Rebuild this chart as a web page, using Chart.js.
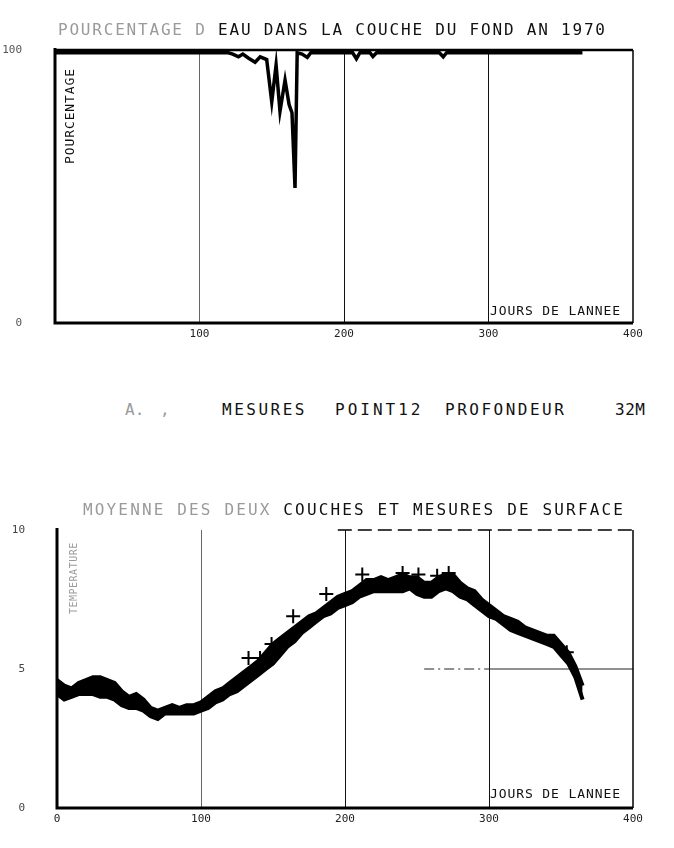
<!DOCTYPE html>
<html>
<head>
<meta charset="utf-8">
<script src="https://cdn.jsdelivr.net/npm/chart.js@4/dist/chart.umd.min.js"></script>
<style>
  html, body { margin: 0; padding: 0; background: #fff; }
  body { width: 674px; height: 848px; position: relative; overflow: hidden; }
  canvas { position: absolute; left: 0; }
  .txt { position: absolute; font-family: 'DejaVu Sans Mono', monospace; font-size: 16px; line-height: 16px; color: #111; white-space: pre; }
  .faint { color: #9a9a9a; }
  .small { font-size: 13px; line-height: 13px; letter-spacing: 0.9px; }
  .vert { transform-origin: 0 0; transform: rotate(-90deg); }
</style>
</head>
<body>
<canvas id="pctChart" width="674" height="360" style="top:0"></canvas>
<canvas id="tempChart" width="674" height="368" style="top:480px"></canvas>

<div class="txt" style="left:58px;top:22px;letter-spacing:1.8px"><span class="faint">POURCENTAGE D </span>EAU DANS LA COUCHE DU FOND AN 1970</div>
<div class="txt vert small" style="left:63px;top:164px">POURCENTAGE</div>
<div class="txt small" style="left:490px;top:304px">JOURS DE LANNEE</div>

<div class="txt faint" style="left:125px;top:402px">A.</div>
<div class="txt faint" style="left:160px;top:402px">,</div>
<div class="txt" style="left:222px;top:402px;letter-spacing:2.5px">MESURES</div>
<div class="txt" style="left:335px;top:402px;letter-spacing:3px">POINT12</div>
<div class="txt" style="left:445px;top:402px;letter-spacing:2.5px">PROFONDEUR</div>
<div class="txt" style="left:615px;top:402px;letter-spacing:0.5px">32M</div>

<div class="txt" style="left:83px;top:502px;letter-spacing:2.15px"><span class="faint">MOYENNE DES DEUX </span>COUCHES ET MESURES DE SURFACE</div>
<div class="txt vert faint" style="left:69px;top:614px;font-size:10px;line-height:10px;letter-spacing:0.5px">TEMPERATURE</div>
<div class="txt small" style="left:490px;top:787px">JOURS DE LANNEE</div>

<script>
// percentage of water, bottom layer 1970 (day of year -> %)
const pctDays = [0, 120, 123, 127, 130, 134, 138.5, 142, 146.5, 150, 153, 155.7, 159.2, 162, 164, 166.1, 167.6, 171, 174.6, 177, 206, 208.6, 211, 218, 220, 222.5, 266, 268.7, 271, 365];
const pctValues = [99, 99, 98.5, 97.5, 98.5, 97, 95.5, 97.5, 96.5, 81, 94.5, 77.5, 89, 80, 77, 49.5, 99, 98.5, 97.3, 99, 99, 96.8, 99, 99, 97.6, 99, 99, 97.5, 99, 99];

// temperature band (two layers), day of year -> deg C
const bandDays = [0, 5, 10, 15, 20, 25, 30, 35, 40, 45, 50, 55, 60, 65, 70, 75, 80, 85, 90, 95, 100,
  105, 110, 115, 120, 125, 130, 135, 140, 145, 150, 155, 160, 165, 170, 175, 180, 185, 190, 195, 200,
  205, 210, 215, 220, 225, 230, 235, 240, 245, 250, 255, 260, 265, 270, 275, 280, 285, 290, 295, 300,
  305, 310, 315, 320, 325, 330, 335, 340, 345, 350, 355, 360, 365];
const upperTemp = [4.6, 4.4, 4.3, 4.5, 4.6, 4.7, 4.7, 4.6, 4.5, 4.2, 4.0, 4.1, 3.9, 3.6, 3.5, 3.6, 3.7, 3.6, 3.7, 3.7, 3.8,
  4.0, 4.2, 4.3, 4.5, 4.7, 4.9, 5.1, 5.3, 5.6, 5.9, 6.1, 6.3, 6.5, 6.7, 6.9, 7.0, 7.2, 7.4, 7.6, 7.7,
  7.8, 8.0, 8.2, 8.2, 8.3, 8.2, 8.3, 8.4, 8.3, 8.3, 8.1, 8.1, 8.3, 8.4, 8.4, 8.1, 7.9, 7.8, 7.5, 7.3,
  7.1, 6.9, 6.8, 6.7, 6.5, 6.4, 6.3, 6.2, 6.2, 5.9, 5.6, 5.1, 4.4];
const lowerTemp = [4.1, 3.9, 4.0, 4.1, 4.1, 4.1, 4.0, 4.0, 3.9, 3.7, 3.6, 3.6, 3.5, 3.3, 3.2, 3.4, 3.4, 3.4, 3.4, 3.4, 3.5,
  3.6, 3.8, 3.9, 4.1, 4.2, 4.4, 4.6, 4.8, 5.0, 5.2, 5.5, 5.8, 6.0, 6.3, 6.5, 6.7, 6.9, 7.0, 7.2, 7.3,
  7.4, 7.6, 7.7, 7.8, 7.8, 7.8, 7.8, 7.8, 7.9, 7.7, 7.6, 7.6, 7.8, 7.9, 7.8, 7.6, 7.5, 7.3, 7.1, 6.9,
  6.8, 6.6, 6.4, 6.3, 6.2, 6.1, 6.0, 5.9, 5.8, 5.5, 5.2, 4.7, 3.9];

// surface measurements (+)
const surfDays = [133, 141, 149, 164, 187, 212, 240, 251, 264, 272, 354];
const surfTemp = [5.4, 5.4, 5.9, 6.9, 7.7, 8.4, 8.45, 8.4, 8.35, 8.45, 5.6];

// partial reference line at 5 deg
const refDays = [255, 300, 400];
const refTemp = [5, 5, 5];

const xTicks = [0, 100, 200, 300, 400];

const tickFont = { family: "'DejaVu Sans Mono', monospace", size: 11 };

function pts(xs, ys) {
    return xs.map((x, i) => ({ x: x, y: ys[i] }));
}

// draws the plotter frame round the chart area
function framePlugin(topDashFrom) {
    return {
        id: 'frame',
        afterDraw(chart) {
            const a = chart.chartArea;
            const c = chart.ctx;
            c.save();
            c.strokeStyle = '#000';
            c.lineWidth = 3;
            c.beginPath();
            c.moveTo(a.left, a.top - 2);
            c.lineTo(a.left, a.bottom);
            c.lineTo(a.right, a.bottom);
            c.stroke();
            c.lineWidth = 1.5;
            c.beginPath();
            c.moveTo(a.right, a.bottom);
            c.lineTo(a.right, a.top);
            c.stroke();
            if (topDashFrom == null) {
                c.lineWidth = 2.5;
                c.beginPath();
                c.moveTo(a.left, a.top);
                c.lineTo(a.right, a.top);
                c.stroke();
            } else {
                const x0 = chart.scales.x.getPixelForValue(topDashFrom);
                c.lineWidth = 1.5;
                c.setLineDash([14, 6]);
                c.beginPath();
                c.moveTo(x0, a.top);
                c.lineTo(a.right, a.top);
                c.stroke();
            }
            c.restore();
        }
    };
}

function xScale(extraPad, showZero) {
    return {
        type: 'linear',
        min: 0,
        max: 400,
        afterBuildTicks: (s) => { s.ticks = xTicks.map(v => ({ value: v })); },
        afterFit: (s) => { s.height = extraPad; },
        ticks: {
            font: tickFont,
            color: '#222',
            padding: 5,
            maxRotation: 0,
            callback: (v) => (v === 0 && !showZero) ? '' : String(v)
        },
        border: { display: false },
        grid: {
            drawTicks: false,
            lineWidth: 1,
            color: (ctx) => {
                const v = ctx.tick ? ctx.tick.value : null;
                if (v === 0 || v === 400) return 'rgba(0,0,0,0)';
                if (v === 100) return '#666';
                return '#111';
            }
        }
    };
}

new Chart(document.getElementById('pctChart').getContext('2d'), {
    type: 'line',
    data: {
        datasets: [{
            label: 'Pourcentage',
            data: pts(pctDays, pctValues),
            borderColor: '#000',
            borderWidth: 3.5,
            pointRadius: 0,
            tension: 0
        }]
    },
    options: {
        responsive: false,
        animation: false,
        layout: { padding: { top: 50, right: 41, left: 0, bottom: 0 } },
        plugins: { legend: { display: false }, tooltip: { enabled: false } },
        scales: {
            x: xScale(37, false),
            y: {
                min: 0,
                max: 100,
                afterBuildTicks: (s) => { s.ticks = [{ value: 0 }, { value: 100 }]; },
                afterFit: (s) => { s.width = 55; },
                ticks: { font: tickFont, color: '#555', padding: 25 },
                border: { display: false },
                grid: { display: false }
            }
        }
    },
    plugins: [framePlugin(null)]
});

new Chart(document.getElementById('tempChart').getContext('2d'), {
    type: 'line',
    data: {
        datasets: [{
            label: 'Couche inferieure',
            data: pts(bandDays, lowerTemp),
            borderColor: '#000',
            borderWidth: 4,
            pointRadius: 0,
            tension: 0
        }, {
            label: 'Couche superieure',
            data: pts(bandDays, upperTemp),
            borderColor: '#000',
            backgroundColor: '#000',
            borderWidth: 4,
            pointRadius: 0,
            tension: 0,
            fill: '-1'
        }, {
            label: 'Mesures de surface',
            data: pts(surfDays, surfTemp),
            showLine: false,
            pointStyle: 'cross',
            pointRadius: 7,
            borderColor: '#000',
            borderWidth: 2
        }, {
            label: 'ref',
            data: pts(refDays, refTemp),
            borderColor: '#222',
            borderWidth: 1,
            pointRadius: 0,
            segment: { borderDash: (ctx) => ctx.p0.parsed.x < 300 ? [10, 4, 2, 4] : undefined }
        }]
    },
    options: {
        responsive: false,
        animation: false,
        layout: { padding: { top: 50, right: 41, left: 0, bottom: 0 } },
        plugins: { legend: { display: false }, tooltip: { enabled: false } },
        scales: {
            x: xScale(40, true),
            y: {
                min: 0,
                max: 10,
                afterBuildTicks: (s) => { s.ticks = [{ value: 0 }, { value: 5 }, { value: 10 }]; },
                afterFit: (s) => { s.width = 57; },
                ticks: { font: tickFont, color: '#444', padding: 24 },
                border: { display: false },
                grid: { display: false }
            }
        }
    },
    plugins: [framePlugin(195)]
});
</script>
</body>
</html>
